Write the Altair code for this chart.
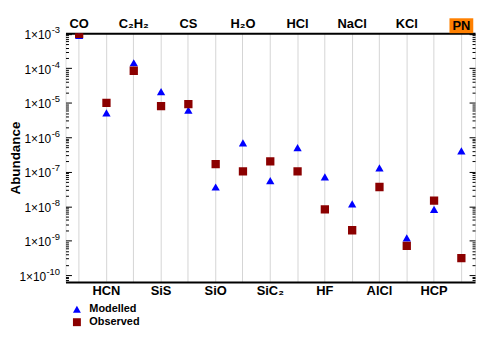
import altair as alt
import pandas as pd

# ---- data ----
molecules = ["CO", "HCN", "C₂H₂", "SiS", "CS", "SiO", "H₂O", "SiC₂",
             "HCl", "HF", "NaCl", "AlCl", "KCl", "HCP", "PN"]
modelled = [9.0e-4, 5.1e-6, 1.45e-4, 2.1e-5, 6.1e-6, 3.6e-8, 6.9e-7, 5.5e-8,
            5.0e-7, 7.1e-8, 1.17e-8, 1.3e-7, 1.2e-9, 8.1e-9, 4.0e-7]
observed = [1.0e-3, 1.0e-5, 8.5e-5, 8.0e-6, 9.1e-6, 1.66e-7, 1.02e-7, 2.0e-7,
            1.02e-7, 8.1e-9, 2.0e-9, 3.6e-8, 7.1e-10, 1.45e-8, 3.1e-10]
series = ["Modelled", "Observed"]
series_colors = ["#0000ff", "#8b0000"]
series_shapes = ["triangle-up", "square"]
highlighted = ["PN"]
decade_exponents = [-3, -4, -5, -6, -7, -8, -9, -10]
y_domain = [6.3e-11, 1.047e-3]

# ---- tables ----
rows = []
for name, vals in zip(series, [modelled, observed]):
    for m, v in zip(molecules, vals):
        rows.append({"molecule": m, "series": name, "value": v})
df = pd.DataFrame(rows)
hl = pd.DataFrame({"molecule": highlighted})

decade_values = [10.0 ** e for e in decade_exponents]
minor_values = [m * 10.0 ** e for e in range(-11, -2) for m in range(2, 10)
                if y_domain[0] <= m * 10.0 ** e <= y_domain[1]]

exp_expr = "'' + round(log(datum.value)/LN10)"

top_labels = [m for i, m in enumerate(molecules) if i % 2 == 0 and m not in highlighted]
bottom_labels = [m for i, m in enumerate(molecules) if i % 2 == 1]


def list_expr(lst):
    return "[" + ",".join("'" + s + "'" for s in lst) + "]"


FONT = "Liberation Sans"
W, H = 413, 251
xscale = alt.Scale(type="band", domain=molecules, paddingInner=0, paddingOuter=0)
yscale = alt.Scale(type="log", domain=y_domain, nice=False)

base = alt.Chart(df)


def x_axis_layer(axis):
    return base.mark_point(opacity=0).encode(
        x=alt.X("molecule:N", scale=xscale, axis=axis, sort=molecules),
        y=alt.Y("value:Q", scale=yscale, axis=None),
    )


def y_axis_layer(axis):
    return base.mark_point(opacity=0).encode(
        x=alt.X("molecule:N", scale=xscale, axis=None, sort=molecules),
        y=alt.Y("value:Q", scale=yscale, axis=axis),
    )


bottom_axis = x_axis_layer(alt.Axis(
    orient="bottom", labelExpr=f"indexof({list_expr(bottom_labels)}, datum.value) >= 0 ? datum.value : ''",
    ticks=False, domain=True, domainColor="black", domainWidth=2,
    grid=True, gridColor="#d4d4d4", gridWidth=1, bandPosition=0.5,
    labelAngle=0, labelFont=FONT, labelFontSize=13, labelFontWeight="bold",
    labelColor="black", labelPadding=3, title=None))

top_axis = x_axis_layer(alt.Axis(
    orient="top", labelExpr=f"indexof({list_expr(top_labels)}, datum.value) >= 0 ? datum.value : ''",
    ticks=False, domain=True, domainColor="black", domainWidth=2, grid=False,
    labelAngle=0, labelFont=FONT, labelFontSize=13, labelFontWeight="bold",
    labelColor="black", labelPadding=3, title=None))

# mantissa "1×10" of the decade labels, plus the axis title
y_mantissa = y_axis_layer(alt.Axis(
    orient="left", values=decade_values, labelExpr="'1×10'", ticks=False,
    domain=False, grid=False,
    labelPadding={"condition": {"test": "datum.value < 5e-10", "value": 20}, "value": 15},
    labelFont=FONT, labelFontSize=12, labelColor="black", labelOverlap=False,
    labelOffset=1, labelBaseline="middle",
    title="Abundance", titleFont=FONT,
    titleFontSize=13.5, titleFontWeight="bold", titleColor="black",
    titleX=-50, titleY=H / 2, titleAngle=270, titleAlign="center",
    titleBaseline="middle"))

# superscript exponents of the decade labels
y_exponent = y_axis_layer(alt.Axis(
    orient="left", values=decade_values, labelExpr=exp_expr, ticks=False,
    domain=False, grid=False, labelPadding=6, labelFont=FONT, labelFontSize=9.5,
    labelColor="black", labelOverlap=False, labelOffset=-4, labelBaseline="middle",
    title=None))


def tick_axis(orient, values, size):
    return y_axis_layer(alt.Axis(
        orient=orient, values=values, labels=False, domain=False, grid=False,
        ticks=True, tickSize=size, offset=-size, tickColor="black", tickWidth=1,
        title=None))


left_major = tick_axis("left", decade_values, 6)
left_minor = tick_axis("left", minor_values, 3)
right_major = tick_axis("right", decade_values, 6)
right_minor = tick_axis("right", minor_values, 3)

legend = alt.Legend(orient="none", legendX=6, legendY=273, title=None,
                    labelFont=FONT, labelFontSize=11, labelFontWeight="bold",
                    labelColor="black", symbolSize=64, rowPadding=1,
                    labelOffset=7, padding=0)

points = base.mark_point(filled=True, opacity=1, size=70, clip=True).encode(
    x=alt.X("molecule:N", scale=xscale, axis=None, sort=molecules),
    y=alt.Y("value:Q", scale=yscale, axis=None),
    color=alt.Color("series:N", scale=alt.Scale(domain=series, range=series_colors), legend=legend),
    shape=alt.Shape("series:N", scale=alt.Scale(domain=series, range=series_shapes), legend=legend),
)

pn_box = alt.Chart(hl).mark_bar(color="#ff8000", size=24).encode(
    x=alt.X("molecule:N", scale=xscale, axis=None, sort=molecules),
    y=alt.value(-15), y2=alt.value(0),
)
pn_text = alt.Chart(hl).mark_text(font=FONT, fontSize=13, fontWeight="bold",
                                  color="black", baseline="middle", align="center").encode(
    x=alt.X("molecule:N", scale=xscale, axis=None, sort=molecules),
    y=alt.value(-7.5),
    text="molecule:N",
)

chart = alt.layer(
    bottom_axis, top_axis, y_mantissa, y_exponent, left_major, left_minor,
    right_major, right_minor, points, pn_box, pn_text,
).resolve_axis(x="independent", y="independent").properties(
    width=W, height=H,
    autosize=alt.AutoSizeParams(type="none"),
    padding={"left": 58, "top": 24, "right": 2, "bottom": 46},
).configure_view(stroke="black", strokeWidth=1).configure(font=FONT)

chart.save("out.html", embed_options={"renderer": "svg", "actions": False})
